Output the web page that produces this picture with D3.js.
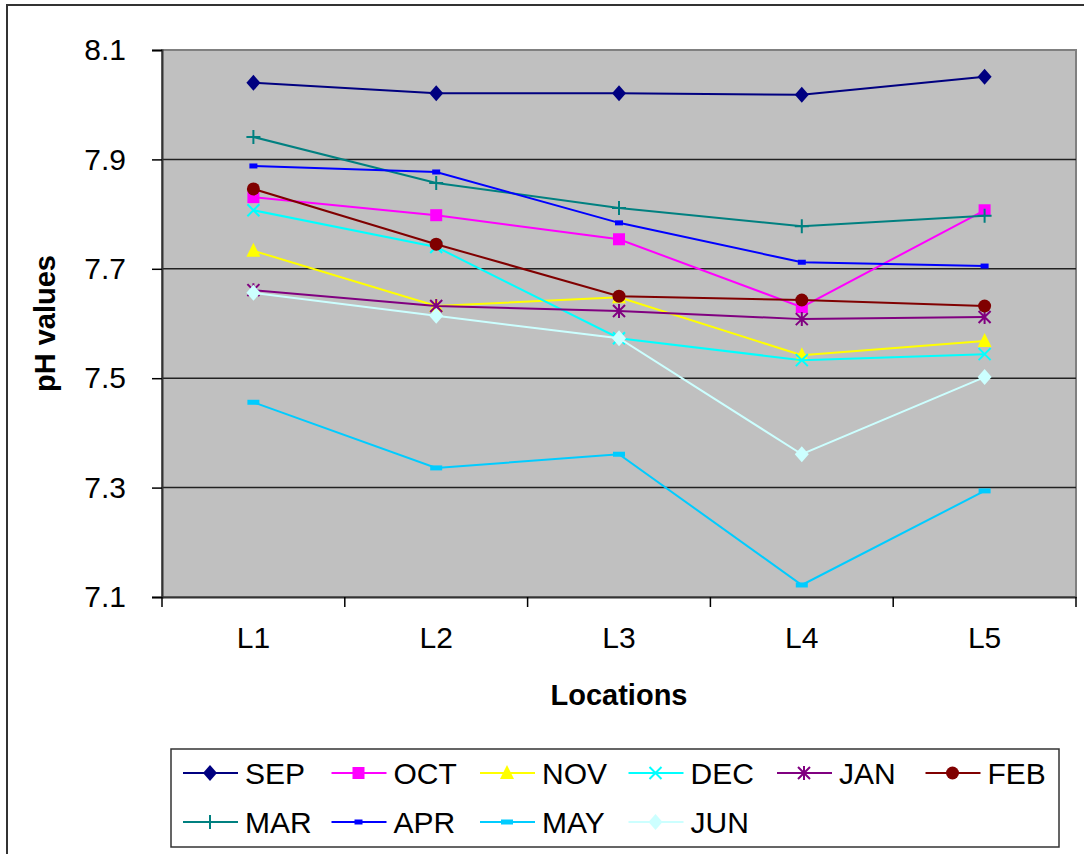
<!DOCTYPE html>
<html>
<head>
<meta charset="utf-8">
<script src="https://cdn.jsdelivr.net/npm/d3@7"></script>
<style>
body { margin:0; background:#fff; }
text { font-family: Arial, "Liberation Sans", sans-serif; }
</style>
</head>
<body>
<div id="chart"></div>
<script>
// locations on the x axis
var locations = ["L1","L2","L3","L4","L5"];
var yTicks = [7.1, 7.3, 7.5, 7.7, 7.9, 8.1];
var months = ["SEP","OCT","NOV","DEC","JAN","FEB","MAR","APR","MAY","JUN"];

// pH values per month, L1..L5
var sep = [8.040, 8.021, 8.021, 8.018, 8.051];
var oct = [7.831, 7.798, 7.754, 7.630, 7.807];
var nov = [7.733, 7.632, 7.648, 7.542, 7.568];
var dec = [7.807, 7.740, 7.573, 7.533, 7.544];
var jan = [7.661, 7.632, 7.623, 7.608, 7.612];
var feb = [7.846, 7.745, 7.650, 7.643, 7.632];
var mar = [7.941, 7.857, 7.811, 7.778, 7.797];
var apr = [7.888, 7.877, 7.784, 7.712, 7.705];
var may = [7.456, 7.336, 7.361, 7.122, 7.294];
var jun = [7.656, 7.614, 7.573, 7.361, 7.502];

var seriesValues = [sep, oct, nov, dec, jan, feb, mar, apr, may, jun];
var colors = ["#000080","#FF00FF","#FFFF00","#00FFFF","#800080","#800000","#008080","#0000FF","#00CCFF","#CCFFFF"];
var markers = ["diamond","square","triangle","x","star","circle","plus","dashSmall","dash","diamond"];

var W = 1084, H = 854;
var plot = {left:162, top:50, right:1076, bottom:597};

var svg = d3.select("#chart").append("svg")
    .attr("width", W).attr("height", H);

// outer chart frame
svg.append("rect")
    .attr("x", 7).attr("y", 5)
    .attr("width", 1100).attr("height", 900)
    .attr("fill", "#fff").attr("stroke", "#333").attr("stroke-width", 2);

var x = d3.scaleBand().domain(locations).range([plot.left, plot.right]);
var y = d3.scaleLinear().domain([7.1, 8.1]).range([plot.bottom, plot.top]);

// plot area
svg.append("rect")
    .attr("x", plot.left).attr("y", plot.top)
    .attr("width", plot.right - plot.left).attr("height", plot.bottom - plot.top)
    .attr("fill", "#C0C0C0").attr("stroke", "#808080").attr("stroke-width", 2);

// gridlines
svg.append("g").selectAll("line")
    .data(yTicks.slice(1, -1))
    .enter().append("line")
    .attr("x1", plot.left).attr("x2", plot.right)
    .attr("y1", function(d){ return y(d); })
    .attr("y2", function(d){ return y(d); })
    .attr("stroke", "#222").attr("stroke-width", 1.5);

// y axis
var yAxis = svg.append("g")
    .attr("transform", "translate(" + plot.left + ",0)")
    .call(d3.axisLeft(y).tickValues(yTicks).tickSize(10).tickPadding(26).tickFormat(d3.format(".1f")));
yAxis.select(".domain").attr("stroke", "#333").attr("stroke-width", 2);
yAxis.selectAll(".tick line").attr("stroke", "#000").attr("stroke-width", 1.5);
yAxis.selectAll("text").attr("font-size", "30px").attr("fill", "#000")
    .style("font-family", "Arial, 'Liberation Sans', sans-serif");

// x axis, ticks on category boundaries
var xAxis = svg.append("g")
    .attr("transform", "translate(0," + plot.bottom + ")")
    .call(d3.axisBottom(x).tickSize(0).tickPadding(30));
xAxis.select(".domain").attr("stroke", "#333").attr("stroke-width", 2);
xAxis.selectAll("text").attr("font-size", "30px").attr("fill", "#000")
    .style("font-family", "Arial, 'Liberation Sans', sans-serif");
var bounds = locations.map(function(d){ return x(d); }).concat([plot.right]);
xAxis.selectAll(".bound").data(bounds).enter().append("line")
    .attr("x1", function(d){ return d; }).attr("x2", function(d){ return d; })
    .attr("y1", 0).attr("y2", 10)
    .attr("stroke", "#000").attr("stroke-width", 1.5);

// axis titles
svg.append("text")
    .attr("transform", "translate(55," + ((plot.top + plot.bottom) / 2) + ") rotate(-90)")
    .attr("text-anchor", "middle")
    .attr("font-size", "29px").attr("font-weight", "bold")
    .text("pH values");
svg.append("text")
    .attr("x", (plot.left + plot.right) / 2).attr("y", 705)
    .attr("text-anchor", "middle")
    .attr("font-size", "29px").attr("font-weight", "bold")
    .text("Locations");

function drawMarker(g, type, color) {
    if (type == "diamond") {
        g.append("path").attr("d", "M0,-8L7,0L0,8L-7,0Z").attr("fill", color);
    } else if (type == "square") {
        g.append("rect").attr("x", -6).attr("y", -6).attr("width", 12).attr("height", 12).attr("fill", color);
    } else if (type == "triangle") {
        g.append("path").attr("d", "M0,-8L7,6L-7,6Z").attr("fill", color);
    } else if (type == "circle") {
        g.append("circle").attr("r", 6.5).attr("fill", color);
    } else if (type == "x") {
        g.append("path").attr("d", "M-6,-6L6,6M-6,6L6,-6").attr("stroke", color).attr("stroke-width", 2).attr("fill", "none");
    } else if (type == "star") {
        g.append("path").attr("d", "M-6,-6L6,6M-6,6L6,-6M0,-7L0,7").attr("stroke", color).attr("stroke-width", 2).attr("fill", "none");
    } else if (type == "plus") {
        g.append("path").attr("d", "M-7,0L7,0M0,-7L0,7").attr("stroke", color).attr("stroke-width", 2).attr("fill", "none");
    } else if (type == "dashSmall") {
        g.append("rect").attr("x", -4).attr("y", -2.5).attr("width", 8).attr("height", 5).attr("fill", color);
    } else if (type == "dash") {
        g.append("rect").attr("x", -6).attr("y", -2.5).attr("width", 12).attr("height", 5).attr("fill", color);
    }
}

var line = d3.line()
    .x(function(d, i){ return x(locations[i]) + x.bandwidth() / 2; })
    .y(function(d){ return y(d); });

seriesValues.forEach(function(vals, s) {
    var g = svg.append("g").attr("class", "series");
    g.append("path").datum(vals)
        .attr("d", line)
        .attr("fill", "none")
        .attr("stroke", colors[s]).attr("stroke-width", 2);
    vals.forEach(function(v, i) {
        var m = g.append("g")
            .attr("transform", "translate(" + (x(locations[i]) + x.bandwidth() / 2) + "," + y(v) + ")");
        drawMarker(m, markers[s], colors[s]);
    });
});

// legend
svg.append("rect")
    .attr("x", 171).attr("y", 749)
    .attr("width", 888).attr("height", 98)
    .attr("fill", "#fff").attr("stroke", "#333").attr("stroke-width", 1.5);

months.forEach(function(m, s) {
    var col = s % 6, row = Math.floor(s / 6);
    var lx = 183 + col * 148.5, ly = 773 + row * 49;
    var g = svg.append("g");
    g.append("line")
        .attr("x1", lx).attr("x2", lx + 55)
        .attr("y1", ly).attr("y2", ly)
        .attr("stroke", colors[s]).attr("stroke-width", 2);
    var mk = g.append("g").attr("transform", "translate(" + (lx + 27) + "," + ly + ")");
    drawMarker(mk, markers[s], colors[s]);
    g.append("text")
        .attr("x", lx + 62).attr("y", ly + 11)
        .attr("font-size", "30px")
        .text(m);
});
</script>
</body>
</html>
